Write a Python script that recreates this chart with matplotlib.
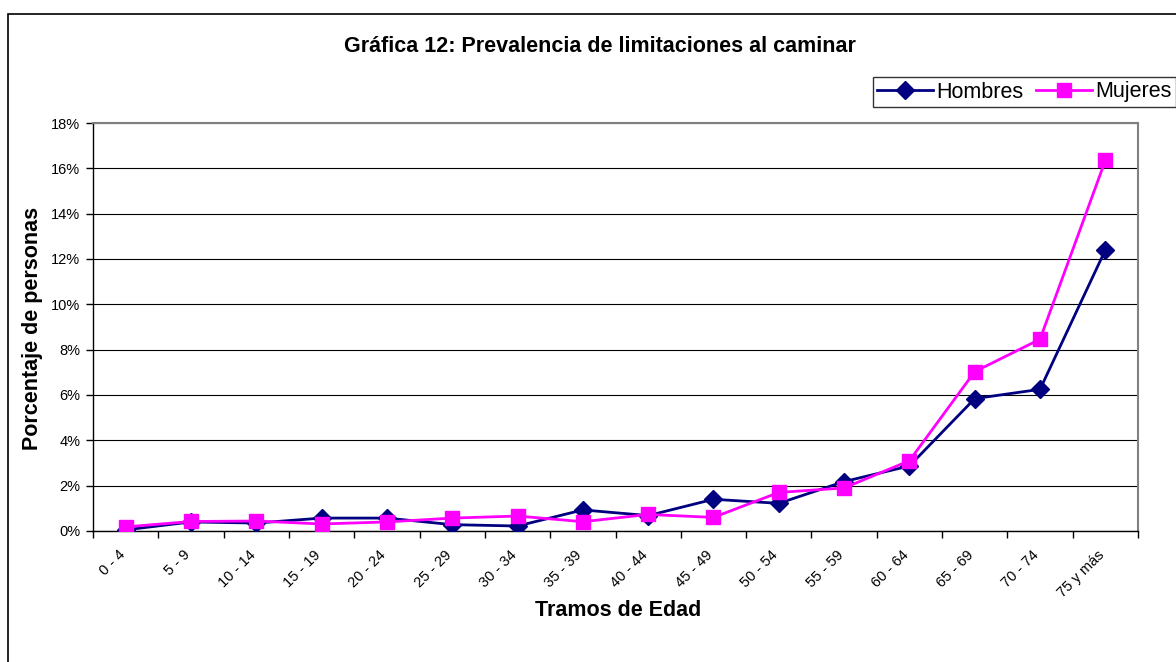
import matplotlib.pyplot as plt
from matplotlib.patches import Rectangle
from matplotlib.ticker import FuncFormatter, FixedLocator, NullFormatter
from matplotlib.transforms import ScaledTranslation

plt.rcParams['font.family'] = ['Liberation Sans', 'DejaVu Sans']

tramos = ['0 - 4', '5 - 9', '10 - 14', '15 - 19', '20 - 24', '25 - 29', '30 - 34',
          '35 - 39', '40 - 44', '45 - 49', '50 - 54', '55 - 59', '60 - 64',
          '65 - 69', '70 - 74', '75 y más']
hombres = [0.05, 0.40, 0.35, 0.57, 0.57, 0.28, 0.22, 0.93, 0.68, 1.40, 1.22, 2.18,
           2.87, 5.84, 6.25, 12.40]
mujeres = [0.18, 0.42, 0.44, 0.31, 0.40, 0.57, 0.66, 0.41, 0.73, 0.60, 1.70, 1.90,
           3.10, 7.03, 8.46, 16.35]

W, H = 1176, 662
fig = plt.figure(figsize=(W / 100, H / 100), dpi=100)
ax = fig.add_axes([93 / W, 1 - 531 / H, (1138 - 93) / W, (531 - 123) / H])

# chart border (runs off the right and bottom edges)
fig.patches.append(Rectangle((8 / W, -0.01), 1.2, 1 - 14 / H + 0.01,
                             transform=fig.transFigure, fill=False,
                             edgecolor='black', lw=1.2))

x = list(range(len(tramos)))
ax.plot(x, hombres, color='#000080', lw=2, marker='D', ms=9,
        label='Hombres', zorder=3)
ax.plot(x, mujeres, color='#FF00FF', lw=2, marker='s', ms=10.5,
        label='Mujeres', zorder=4)

ax.set_xlim(-0.5, len(tramos) - 0.5)
ax.set_ylim(0, 18)
ax.set_yticks(range(0, 19, 2))
ax.yaxis.set_major_formatter(FuncFormatter(lambda v, p: f'{v:.0f}%'))
ax.grid(axis='y', color='black', lw=0.8)
ax.set_axisbelow(True)

ax.xaxis.set_major_locator(FixedLocator([i - 0.5 for i in range(len(tramos) + 1)]))
ax.xaxis.set_major_formatter(NullFormatter())
ax.set_xticks(x, minor=True)
ax.set_xticklabels(tramos, minor=True, rotation=45, ha='right', va='top',
                   rotation_mode='anchor', fontsize=10.5)
ax.tick_params(axis='x', which='minor', length=0, pad=12)
ax.tick_params(axis='x', which='major', length=5, width=1, direction='out')
ax.tick_params(axis='y', length=5, width=1, labelsize=10.5, pad=4)
# nudge the slanted labels a little to the left, like the original
shift = ScaledTranslation(-8 / 100, 0, fig.dpi_scale_trans)
for lab in ax.get_xticklabels(minor=True):
    lab.set_transform(lab.get_transform() + shift)

for s in ['top', 'right']:
    ax.spines[s].set_color('#808080')
    ax.spines[s].set_linewidth(1.5)
for s in ['left', 'bottom']:
    ax.spines[s].set_color('black')
    ax.spines[s].set_linewidth(1)

fig.text(600 / W, 1 - 46 / H,
         'Gráfica 12: Prevalencia de limitaciones al caminar',
         ha='center', va='center', fontsize=15.5, fontweight='bold')
fig.text(618 / W, 1 - 610 / H, 'Tramos de Edad',
         ha='center', va='center', fontsize=15.5, fontweight='bold')
fig.text(33 / W, 1 - 328 / H, 'Porcentaje de personas', rotation=90,
         ha='center', va='center', fontsize=15.5, fontweight='bold')

leg = fig.legend(loc='center right', bbox_to_anchor=(1.0, 1 - 92 / H),
                 ncol=2, fontsize=15.5, frameon=True, fancybox=False,
                 handlelength=2.6, handletextpad=0.15, columnspacing=0.6,
                 borderpad=0.2, borderaxespad=0)
leg.get_frame().set_edgecolor('black')
leg.get_frame().set_linewidth(1)

fig.savefig('out.png', dpi=100)
